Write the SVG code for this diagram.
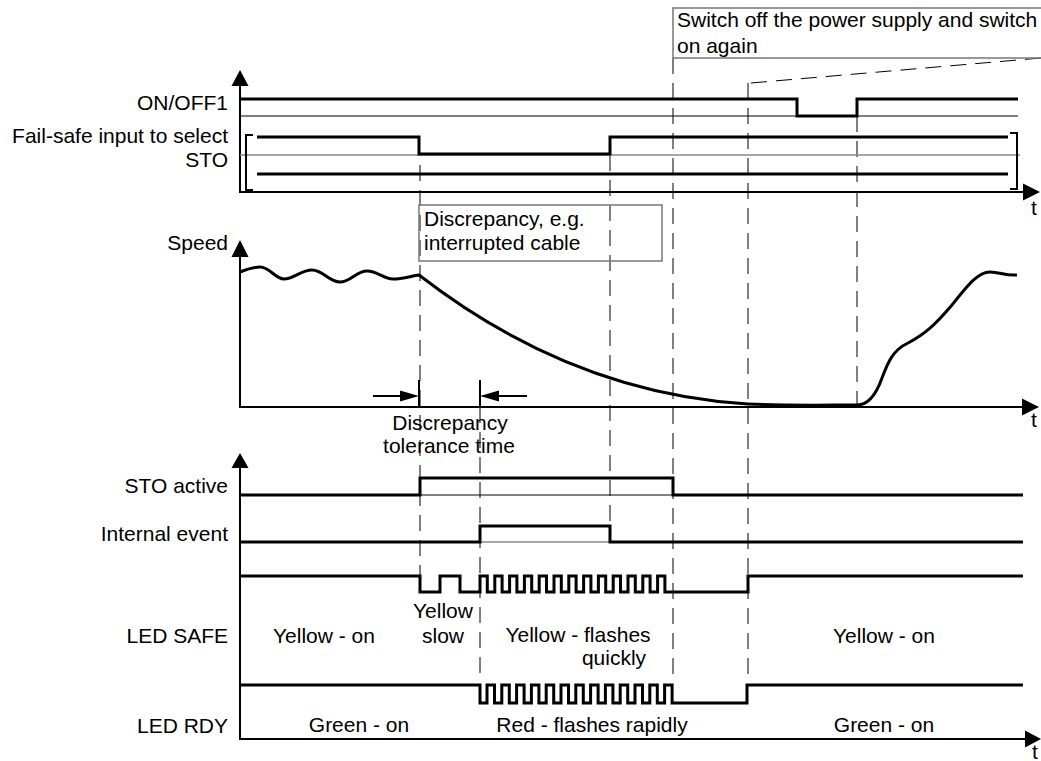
<svg xmlns="http://www.w3.org/2000/svg" width="1041" height="761" viewBox="0 0 1041 761">
<style>
text{font-family:"Liberation Sans",Arial,sans-serif;font-size:21px;fill:#000}
.r{text-anchor:end}
.m{text-anchor:middle}
.sig{fill:none;stroke:#000;stroke-width:3}
.ax{fill:none;stroke:#000;stroke-width:2}
.thin{fill:none;stroke:#000;stroke-width:1}
.gray{fill:none;stroke:#888;stroke-width:1.5}
.dash{fill:none;stroke:#000;stroke-width:1;stroke-dasharray:16,9}
.ah{fill:#000}
</style>
<rect width="1041" height="761" fill="#fff"/>

<g id="connectors">
<path class="dash" d="M420,165 V575"/>
<path class="dash" d="M480,407 V682"/>
<path class="dash" d="M610,155 V527"/>
<path class="dash" d="M673,58 V682"/>
<path class="dash" d="M748,83 V682"/>
<path class="dash" d="M857,116 V405"/>
<path class="dash" d="M751,83 L1041,58"/>
<path class="ax" d="M419,380 V407 M480,380 V407"/>
<path class="ax" d="M373,396 H404 M495,396 H527"/>
<polygon class="ah" points="419,396 400,390.5 400,401.5"/>
<polygon class="ah" points="480,396 499,390.5 499,401.5"/>
</g>

<g id="callout-power">
<rect x="673" y="8" width="380" height="50" fill="none" stroke="#777" stroke-width="1.5"/>
<text x="677" y="27">Switch off the power supply and switch</text>
<text x="677" y="53">on again</text>
</g>

<g id="panel-top">
<path class="ax" d="M240,85 V192 H1024"/>
<polygon class="ah" points="240,70 231.5,86 248.5,86"/>
<polygon class="ah" points="1040,192 1023,183.5 1023,200.5"/>
<text x="1031" y="215">t</text>
<text class="r" x="228" y="110">ON/OFF1</text>
<text class="r" x="228" y="143">Fail-safe input to select</text>
<text class="r" x="228" y="167">STO</text>
<path class="thin" d="M240,116 H1018"/>
<path class="gray" d="M240,155 H1020"/>
<path class="sig" d="M240,99 H797 V116 H857 V99 H1018"/>
<path class="sig" d="M257,137 H419 V154 H610 V137 H1008"/>
<path class="sig" d="M257,174 H1008"/>
<path class="ax" d="M253,135 H246 V190 H253"/>
<path class="ax" d="M1010,133 H1017 V189 H1010"/>
</g>

<g id="panel-speed">
<path class="ax" d="M240,256 V407 H1024"/>
<polygon class="ah" points="240,240 231.5,257 248.5,257"/>
<polygon class="ah" points="1039,407 1022,398.5 1022,415.5"/>
<text x="1031" y="427">t</text>
<text class="r" x="228" y="250">Speed</text>
<path class="sig" d="M240,272 C248,269 254,267 260,267 C270,267 275,279 284,279 C294,279 301,270 312,270 C323,270 329,282 340,282 C351,282 356,271 367,271 C378,271 383,279 393,279 C403,279 411,276 419,275 C490,330 600,395 748,404 C790,406 830,405 857,405 C868,405 876,395 882,378 C888,362 893,350 908,343 C925,334 935,325 952,305 C968,285 978,272 990,272 C1000,272 1005,276 1017,275"/>
</g>

<g id="callout-discrepancy">
<rect x="419" y="205" width="243" height="56" fill="none" stroke="#777" stroke-width="1.5"/>
<text x="424" y="226">Discrepancy, e.g.</text>
<text x="424" y="250">interrupted cable</text>
</g>

<g id="label-tolerance">
<text class="m" x="450" y="430">Discrepancy</text>
<text class="m" x="449" y="453">tolerance time</text>
</g>

<g id="panel-bottom">
<path class="ax" d="M240,467 V739 H1026"/>
<polygon class="ah" points="240,453 231.5,468 248.5,468"/>
<polygon class="ah" points="1041,739 1025,730.5 1025,747.5"/>
<text x="1032" y="759">t</text>
</g>

<g id="sig-sto-active">
<text class="r" x="228" y="493">STO active</text>
<path class="thin" d="M420,495 H673"/>
<path class="sig" d="M240,495 H420 V478 H673 V495 H1023"/>
</g>

<g id="sig-internal-event">
<text class="r" x="228" y="541">Internal event</text>
<path class="gray" d="M480,542 H610"/>
<path class="sig" d="M240,542 H480 V526 H610 V542 H1023"/>
</g>

<g id="sig-led-safe">
<text class="r" x="228" y="643">LED SAFE</text>
<path class="sig" d="M240,576 H420 V592 H440 V576 H460 V592 H480 V576 H487.3 V592 H494.8 V576 H502.1 V592 H509.6 V576 H516.9 V592 H524.4 V576 H531.7 V592 H539.2 V576 H546.5 V592 H554 V576 H561.3 V592 H568.8 V576 H576.1 V592 H583.6 V576 H590.9 V592 H598.4 V576 H605.7 V592 H613.2 V576 H620.5 V592 H628 V576 H635.3 V592 H642.8 V576 H650.1 V592 H657.6 V576 H664.9 V592 H748 V576 H1023"/>
<text class="m" x="324" y="643">Yellow - on</text>
<text class="m" x="443" y="618">Yellow</text>
<text class="m" x="443" y="643">slow</text>
<text class="m" x="578" y="642">Yellow - flashes</text>
<text class="m" x="614" y="665">quickly</text>
<text class="m" x="884" y="643">Yellow - on</text>
</g>

<g id="sig-led-rdy">
<text class="r" x="228" y="733">LED RDY</text>
<path class="sig" d="M240,685 H480 V703 H487 V685 H494.5 V703 H501.8 V685 H509.3 V703 H516.6 V685 H524.1 V703 H531.4 V685 H538.9 V703 H546.2 V685 H553.7 V703 H561 V685 H568.5 V703 H575.8 V685 H583.3 V703 H590.6 V685 H598.1 V703 H605.4 V685 H612.9 V703 H620.2 V685 H627.7 V703 H635 V685 H642.5 V703 H649.8 V685 H657.3 V703 H664.6 V685 H672.1 V703 H747 V685 H1023"/>
<text class="m" x="359" y="732">Green - on</text>
<text class="m" x="592" y="732">Red - flashes rapidly</text>
<text class="m" x="884" y="732">Green - on</text>
</g>
</svg>
